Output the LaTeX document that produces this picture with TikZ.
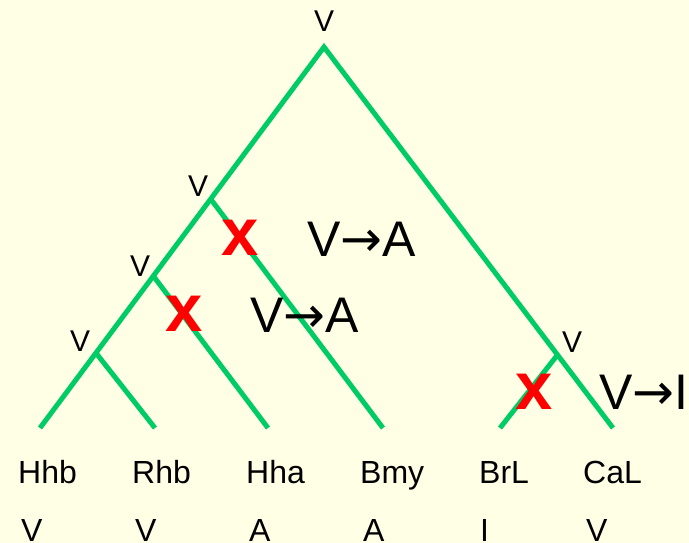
\documentclass[tikz,border=0pt]{standalone}
\usepackage{fontspec}
\setmainfont{Liberation Sans}
\newfontfamily\arrowfont{DejaVu Sans}
\usetikzlibrary{calc}
\definecolor{bg}{RGB}{255,255,230}
\definecolor{branch}{RGB}{0,204,102}
\definecolor{cut}{RGB}{255,0,0}
\begin{document}
\begin{tikzpicture}[x=1pt,y=-1pt,
  edge/.style={draw=branch,line width=5pt},
  smallv/.style={inner sep=0pt,anchor=base west,font=\fontsize{30}{30}\selectfont},
  taxon/.style={inner sep=0pt,anchor=base west,font=\fontsize{32}{32}\selectfont},
  change/.style={inner sep=0pt,anchor=base west,font=\fontsize{50}{50}\selectfont},
  xmark/.style={inner sep=0pt,anchor=base west,text=cut,font=\fontsize{67}{67}\selectfont\bfseries}]
\fill[bg] (0,0) rectangle (689,543);
\useasboundingbox (0,0) rectangle (689,543);
% tree coordinates
\coordinate (root) at (324,47);
\coordinate (l1) at (40,428);
\coordinate (l2) at (155,428);
\coordinate (l3) at (268,428);
\coordinate (l4) at (383,428);
\coordinate (l5) at (500,428);
\coordinate (l6) at (613,428);
\coordinate (n1) at ($(root)!0.399!(l1)$);
\coordinate (n2) at ($(root)!0.601!(l1)$);
\coordinate (n3) at ($(root)!0.803!(l1)$);
\coordinate (n4) at ($(root)!0.808!(l6)$);
% branches
\draw[edge] (l1) -- (root) -- (l6);
\draw[edge] (n1) -- (l4);
\draw[edge] (n2) -- (l3);
\draw[edge] (n3) -- (l2);
\draw[edge] (n4) -- (l5);
% ancestral states
\node[smallv] (vr) at (314,32) {V};
\node[smallv] (v1) at (188,196) {V};
\node[smallv] (v2) at (130,276) {V};
\node[smallv] (v3) at (70,351) {V};
\node[smallv] (v4) at (562,352) {V};
% changes
\node[xmark] (x1) at (221,255) {x};
\node[xmark] (x2) at (165,331) {x};
\node[xmark] (x3) at (515,409) {x};
\node[change] (c1) at (307,256) {V{\arrowfont →}A};
\node[change] (c2) at (250,332) {V{\arrowfont →}A};
\node[change] (c3) at (599,409) {V{\arrowfont →}I};
% taxa
\node[taxon] (t1) at (18,483) {Hhb};
\node[taxon] (t2) at (132,483) {Rhb};
\node[taxon] (t3) at (246,483) {Hha};
\node[taxon] (t4) at (360,483) {Bmy};
\node[taxon] (t5) at (479,483) {BrL};
\node[taxon] (t6) at (583,483) {CaL};
% states
\node[taxon] (s1) at (21,541) {V};
\node[taxon] (s2) at (135,541) {V};
\node[taxon] (s3) at (249,541) {A};
\node[taxon] (s4) at (363,541) {A};
\node[taxon] (s5) at (480,541) {I};
\node[taxon] (s6) at (586,541) {V};
\end{tikzpicture}
\end{document}
